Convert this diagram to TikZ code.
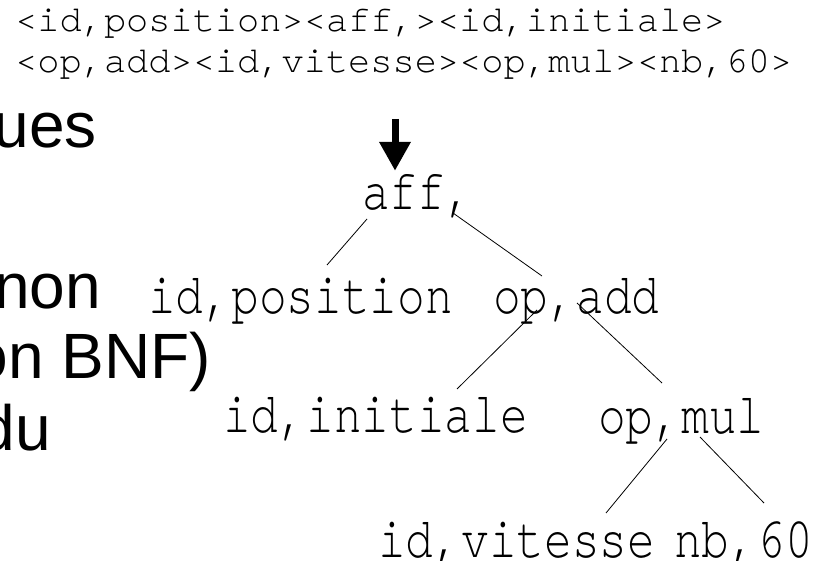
\documentclass[tikz,border=0pt]{standalone}
\usepackage{fontspec}
\usepackage{graphicx}
\newfontfamily\slidesans{Liberation Sans}
\newfontfamily\slidemono[Ligatures={NoCommon,NoRare}]{texgyrecursor-regular.otf}
\usetikzlibrary{arrows.meta,calc}
\tikzset{
  tokenrow/.style={anchor=base west, inner sep=0pt, font=\slidemono\fontsize{37}{37}\selectfont},
  treelabel/.style={anchor=base west, inner sep=0pt, font=\slidemono\fontsize{58}{58}\selectfont},
  bodytext/.style={anchor=base east, inner sep=0pt, font=\slidesans\fontsize{64}{64}\selectfont},
  branch/.style={draw=black, line width=0.8pt},
  pointer/.style={line width=7pt, -{Triangle[width=30pt,length=29pt]}}
}
% tree labels are set narrower than their height
\newcommand\treenarrow[1]{\scalebox{0.796}[1]{#1}}
\begin{document}
\begin{tikzpicture}[x=1pt,y=-1pt]
  \fill[white] (0,0) rectangle (821,561);
  \useasboundingbox (0,0) rectangle (821,561);

  % token stream produced by the lexer
  \node[tokenrow] (tok1) at (15,32) {<id,position><aff,><id,initiale>};
  \node[tokenrow] (tok2) at (15,73) {<op,add><id,vitesse><op,mul><nb,60>};

  % slide text running off the left edge
  \node[bodytext] (l1) at (97,148) {ues};
  \node[bodytext] (l2) at (101,308) {non};
  \node[bodytext] (l3) at (211,378) {on BNF)};
  \node[bodytext] (l4) at (51,450) {du};

  % syntax tree
  \node[treelabel] (aff)   at (362,210) {\treenarrow{aff,}};
  \node[treelabel] (idpos) at (148,313) {\treenarrow{id,position}};
  \node[treelabel] (opadd) at (493,313) {\treenarrow{op,add}};
  \node[treelabel] (idini) at (223,432) {\treenarrow{id,initiale}};
  \node[treelabel] (opmul) at (598,433) {\treenarrow{op,mul}};
  \node[treelabel] (idvit) at (378,557) {\treenarrow{id,vitesse}};
  \node[treelabel] (nbsix) at (674,557) {\treenarrow{nb,60}};

  % arrow pointing at the root
  \coordinate (arrtop) at (395,119);
  \coordinate (arrtip) at ($(arrtop |- aff.north)+(0,-4)$);
  \draw[pointer] (arrtop) -- (arrtip);

  % branches
  \draw[branch] ($(aff.base west)+(5,9)$)    -- ($(idpos.base west)+(179,-48)$);
  \draw[branch] ($(aff.base west)+(91,3)$)   -- ($(opadd.base west)+(49,-37)$);
  \draw[branch] ($(opadd.base west)+(44,-3)$) -- ($(idini.base west)+(234,-43)$);
  \draw[branch] ($(opadd.base west)+(84,-10)$) -- ($(opmul.base west)+(64,-50)$);
  \draw[branch] ($(opmul.base west)+(69,6)$)  -- ($(idvit.base west)+(228,-44)$);
  \draw[branch] ($(opmul.base west)+(102,4)$) -- ($(nbsix.base west)+(90,-54)$);
\end{tikzpicture}
\end{document}
